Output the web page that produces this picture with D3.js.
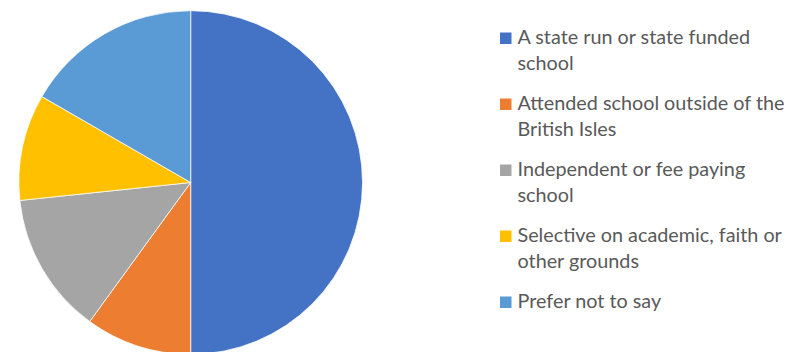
<!DOCTYPE html>
<html>
<head>
<meta charset="utf-8">
<script src="https://cdn.jsdelivr.net/npm/d3@7/dist/d3.min.js"></script>
<style>
  html, body { margin: 0; padding: 0; background: #ffffff; }
  svg { display: block; }
</style>
</head>
<body>
<svg id="chart" width="799" height="352"></svg>
<script>
// School type of respondents (counts)
const categories = [
  "A state run or state funded school",
  "Attended school outside of the British Isles",
  "Independent or fee paying school",
  "Selective on academic, faith or other grounds",
  "Prefer not to say"
];
const values = [15, 3, 4, 3, 5];
const colors = ["#4472C4", "#ED7D31", "#A5A5A5", "#FFC000", "#5B9BD5"];
// Legend text, broken into display lines
const legendLines = [
  ["A state run or state funded", "school"],
  ["Attended school outside of the", "British Isles"],
  ["Independent or fee paying", "school"],
  ["Selective on academic, faith or", "other grounds"],
  ["Prefer not to say"]
];

const svg = d3.select("#chart");
const cx = 190.7, cy = 182.5, radius = 171.8;

const data = categories.map((c, i) => ({ name: c, value: values[i], color: colors[i] }));

const pie = d3.pie().value(d => d.value).sort(null);
const arc = d3.arc().innerRadius(0).outerRadius(radius);

svg.append("g")
  .attr("transform", `translate(${cx},${cy})`)
  .selectAll("path")
  .data(pie(data))
  .join("path")
  .attr("d", arc)
  .attr("fill", d => d.data.color)
  .attr("stroke", "#ffffff")
  .attr("stroke-width", 0.75)
  .attr("stroke-linejoin", "round");

// Legend
const legendX = 500, firstBaseline = 44, itemStep = 66, lineStep = 26;
const legend = svg.append("g")
  .attr("font-family", "Lato, 'Open Sans', sans-serif")
  .attr("font-size", 19.8)
  .attr("fill", "#595959");

const item = legend.selectAll("g.item")
  .data(data)
  .join("g")
  .attr("class", "item")
  .attr("transform", (d, i) => `translate(${legendX},${firstBaseline + i * itemStep})`);

item.append("rect")
  .attr("x", 0)
  .attr("y", -11.5)
  .attr("width", 11.5)
  .attr("height", 11.5)
  .attr("fill", d => d.color);

item.each(function(d, i) {
  const t = d3.select(this).append("text").attr("x", 17.5);
  legendLines[i].forEach((line, j) => {
    t.append("tspan").attr("x", 17.5).attr("y", j * lineStep).text(line);
  });
});
</script>
</body>
</html>
